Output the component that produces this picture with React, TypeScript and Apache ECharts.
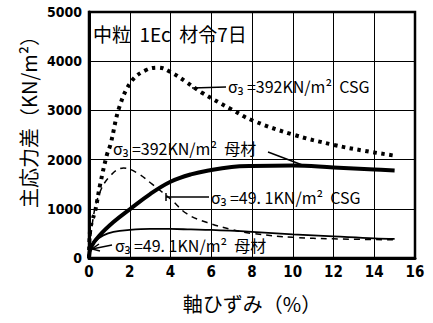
import React, { useEffect, useRef } from "react";
import * as echarts from "echarts";

const xTicks = [0, 2, 4, 6, 8, 10, 12, 14, 16];
const yTicks = [0, 1000, 2000, 3000, 4000, 5000];

const csg392: [number, number][] = [
  [0, 0], [0.05, 550], [0.15, 750], [0.3, 950], [0.55, 1500], [0.88, 2100], [1.05, 2300],
  [1.5, 3080], [2.1, 3600], [2.8, 3820], [3.4, 3870], [4.0, 3780], [4.8, 3570],
  [5.5, 3370], [7, 3020], [8, 2800], [10, 2510], [12, 2300], [13.5, 2180], [15, 2080],
];
const base392: [number, number][] = [
  [0, 0], [0.1, 220], [0.5, 450], [1.2, 730], [2, 990], [3, 1300], [4, 1550], [5, 1700],
  [6, 1790], [7, 1850], [8, 1870], [10, 1880], [12, 1840], [14, 1800], [15, 1780],
];
const csg49: [number, number][] = [
  [0, 0], [0.2, 800], [0.5, 1300], [1.0, 1650], [1.7, 1830], [2.4, 1720], [3.1, 1500],
  [4, 1200], [4.8, 900], [5.8, 720], [7, 580], [8, 500], [10, 420], [12, 390], [15, 370],
];
const base49: [number, number][] = [
  [0, 0], [0.1, 200], [0.3, 340], [0.7, 460], [1.2, 530], [2, 570], [3, 590], [4, 590],
  [5, 580], [6, 570], [8, 530], [10, 480], [12, 440], [14, 400], [15, 390],
];

const titleText = "中粒  1Ec  材令7日";
const label392csg = "σ₃ =392KN/m²  CSG";
const label392base = "σ₃ =392KN/m²  母材";
const label49csg = "σ₃ =49. 1KN/m²  CSG";
const label49base = "σ₃ =49. 1KN/m²  母材";
const xName = "軸ひずみ（%）";
const yName = "主応力差（KN/m²）";

const JP = "'Noto Sans CJK JP', 'Noto Sans', sans-serif";
const NUM = "'Liberation Sans Narrow', 'DejaVu Sans Condensed', 'Liberation Sans', sans-serif";

export default function App() {
  const ref = useRef<HTMLDivElement>(null);
  useEffect(() => {
    if (!ref.current) return;
    const chart = echarts.init(ref.current, null, { renderer: "svg" });
    const txt = (x: number, y: number, t: string, size = 16) => ({
      type: "text",
      x,
      y,
      style: { text: t, fill: "#000", font: `${size}px ${JP}`, textVerticalAlign: "middle", textAlign: "left" },
    });
    const ln = (x1: number, y1: number, x2: number, y2: number) => ({
      type: "line",
      shape: { x1, y1, x2, y2 },
      style: { stroke: "#000", lineWidth: 1.5 },
    });
    chart.setOption({
      animation: false,
      backgroundColor: "#fff",
      grid: { left: 89, right: 18, top: 12, bottom: 65, show: true, borderColor: "#000", borderWidth: 2.5 },
      xAxis: {
        type: "value",
        min: 0,
        max: 16,
        interval: 2,
        name: xName,
        nameLocation: "middle",
        nameGap: 35,
        nameTextStyle: { fontFamily: JP, fontSize: 20, color: "#000" },
        axisLine: { show: true, lineStyle: { color: "#000", width: 3 } },
        axisTick: { show: false },
        axisLabel: {
          color: "#000",
          fontFamily: NUM,
          fontWeight: "bold",
          fontSize: 15,
          margin: 6,
          formatter: (v: number) => (xTicks.includes(v) ? String(v) : ""),
        },
        splitLine: { show: true, lineStyle: { color: "#000", width: 1 } },
      },
      yAxis: {
        type: "value",
        min: 0,
        max: 5000,
        interval: 1000,
        axisLine: { show: true, lineStyle: { color: "#000", width: 3 } },
        axisTick: { show: false },
        axisLabel: {
          color: "#000",
          fontFamily: NUM,
          fontWeight: "bold",
          fontSize: 14,
          margin: 7,
          formatter: (v: number) => (yTicks.includes(v) ? String(v) : ""),
        },
        splitLine: { show: true, lineStyle: { color: "#000", width: 1 } },
      },
      series: [
        {
          type: "line",
          data: csg392,
          smooth: 0.4,
          showSymbol: false,
          lineStyle: { color: "#000", width: 4, type: [3.5, 4.5], cap: "butt" },
        },
        {
          type: "line",
          data: base392,
          smooth: 0.4,
          showSymbol: false,
          lineStyle: { color: "#000", width: 4, type: "solid" },
        },
        {
          type: "line",
          data: csg49,
          smooth: 0.4,
          showSymbol: false,
          lineStyle: { color: "#000", width: 1.5, type: [6, 5] },
        },
        {
          type: "line",
          data: base49,
          smooth: 0.4,
          showSymbol: false,
          lineStyle: { color: "#000", width: 1.8, type: "solid" },
        },
      ],
      graphic: [
        {
          type: "text",
          x: 28,
          y: 117,
          rotation: Math.PI / 2,
          style: { text: yName, fill: "#000", font: `20px ${JP}`, textAlign: "center", textVerticalAlign: "middle" },
        },
        txt(93, 33, titleText, 19),
        ln(192, 88, 226, 87),
        txt(228, 86, label392csg),
        txt(113, 148, label392base),
        ln(268, 152, 305, 166),
        ln(166, 197, 209, 197),
        ln(166, 193, 166, 201),
        txt(211, 197, label49csg),
        txt(115, 245, label49base),
        ln(112, 245, 92, 249),
        { type: "polyline", shape: { points: [[99, 244], [92, 249], [100, 251]] }, style: { stroke: "#000", lineWidth: 1.5, fill: null } },
      ],
    });
    return () => chart.dispose();
  }, []);
  return <div ref={ref} style={{ width: 433, height: 323, position: "absolute", left: 0, top: 0 }} />;
}
